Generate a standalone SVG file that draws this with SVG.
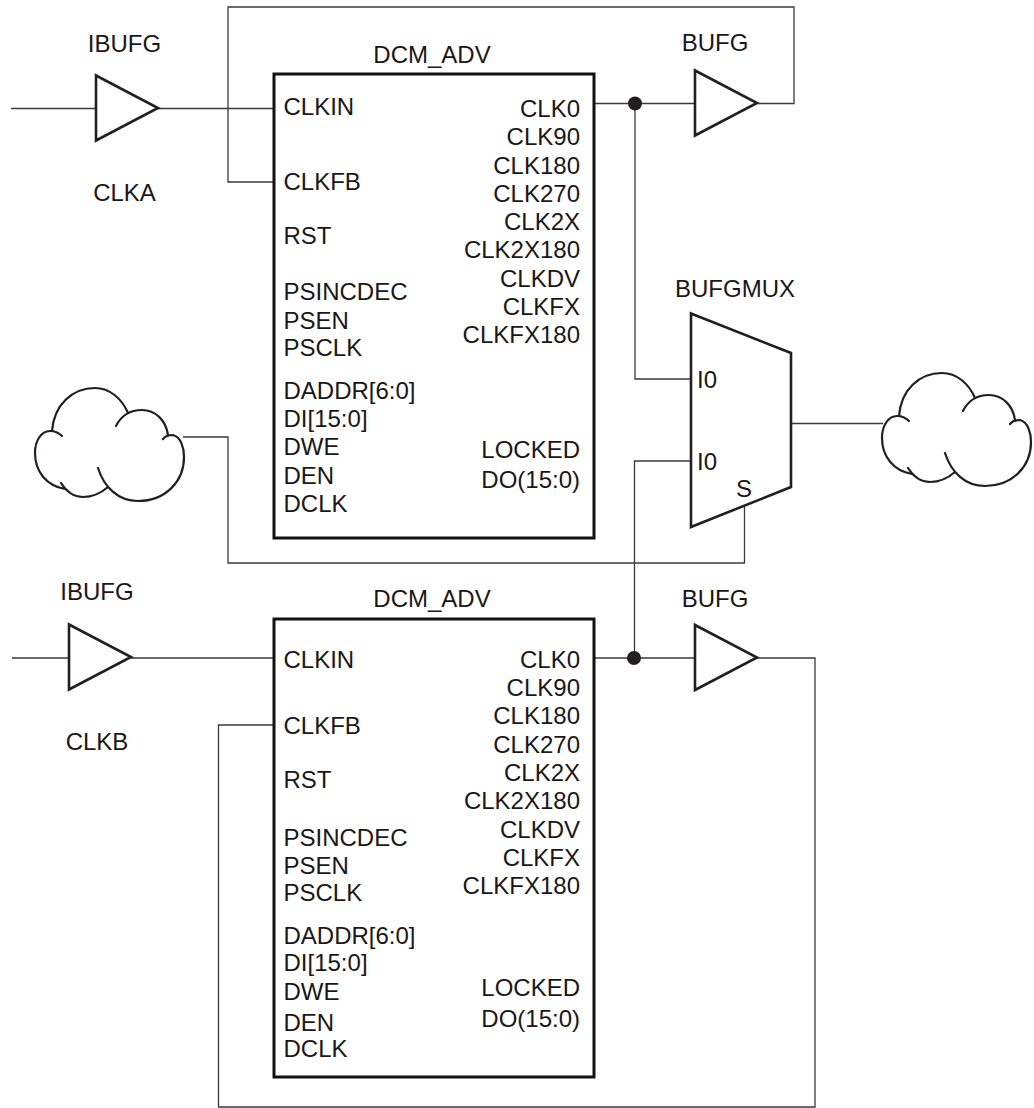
<svg xmlns="http://www.w3.org/2000/svg" width="1034" height="1108" viewBox="0 0 1034 1108">
<style>
text{font-family:"Liberation Sans",Arial,sans-serif;font-size:24px;fill:#1a1718}
.e{text-anchor:end}
.m{text-anchor:middle}
.w{fill:none;stroke:#3c3a3b;stroke-width:1.3}
.s{fill:#fff;stroke:#231f20;stroke-width:2.6}
.b{fill:#fff;stroke:#111;stroke-width:3}
.c{fill:none;stroke:#231f20;stroke-width:2.2;stroke-linecap:round}
</style>
<defs>
<path id="tri" class="s" d="M0 0L62 32.5L0 65Z"/>
<g id="cloud">
<path class="c" d="M52 431C54 405 72 388 95 388C110 388 122 399 128 413"/>
<path class="c" d="M116 426C122 414 132 410 142 410C155 410 166 420 168 435"/>
<path class="c" d="M163 439C166 435 170 435 173 435C181 437 184 448 184 457C184 482 165 501 138 501C118 501 104 487 98 468"/>
<path class="c" d="M108 487C100 494 92 497 83 497C74 497 66 491 61 483"/>
<path class="c" d="M65 489C47 486 35 472 35 453C35 441 41 431 50 431C55 431 59 433 62 436"/>
</g>
</defs>
<g id="connectors">
<path class="w" d="M11 108.500H96M157 108.500H274"/>
<path class="w" d="M274 182H228V7H794V103.500H757"/>
<path class="w" d="M594 103.500H695"/>
<path class="w" d="M635 103.500V379H691"/>
<path class="w" d="M691 461H634.500V658"/>
<path class="w" d="M791 423.500H883"/>
<path class="w" d="M183 437H228V563H744.500V506"/>
<path class="w" d="M12 658H69M131 658H274"/>
<path class="w" d="M594 658H695M757 658H815V1107H218.500V725H274"/>
<circle cx="635" cy="103.500" r="7" fill="#231f20"/>
<circle cx="634" cy="658" r="7" fill="#231f20"/>
</g>
<g id="ibufg-a"><use href="#tri" x="96" y="75.500"/><text class="m" x="124.500" y="52">IBUFG</text><text class="m" x="124.500" y="201">CLKA</text></g>
<g id="bufg-a"><use href="#tri" x="695" y="70.500"/><text class="m" x="715" y="51">BUFG</text></g>
<g id="dcm-a"><rect class="b" x="274" y="74" width="320" height="464"/><text class="m" x="432" y="63">DCM_ADV</text>
<text x="283.500" y="115">CLKIN</text>
<text x="283.500" y="190">CLKFB</text>
<text x="283.500" y="244">RST</text>
<text x="283.500" y="300">PSINCDEC</text>
<text x="283.500" y="329">PSEN</text>
<text x="283.500" y="356">PSCLK</text>
<text x="283.500" y="399">DADDR[6:0]</text>
<text x="283.500" y="427">DI[15:0]</text>
<text x="283.500" y="455">DWE</text>
<text x="283.500" y="484">DEN</text>
<text x="283.500" y="512">DCLK</text>
<text class="e" x="580" y="117">CLK0</text>
<text class="e" x="580" y="145">CLK90</text>
<text class="e" x="580" y="174">CLK180</text>
<text class="e" x="580" y="202">CLK270</text>
<text class="e" x="580" y="230">CLK2X</text>
<text class="e" x="580" y="258">CLK2X180</text>
<text class="e" x="580" y="287">CLKDV</text>
<text class="e" x="580" y="315">CLKFX</text>
<text class="e" x="580" y="343">CLKFX180</text>
<text class="e" x="580" y="458">LOCKED</text>
<text class="e" x="580" y="488">DO(15:0)</text>
</g>
<g id="bufgmux"><path class="s" d="M691 313.500L791 353V487L691 527Z"/><text class="m" x="735" y="297">BUFGMUX</text><text x="697" y="388">I0</text><text x="697" y="470">I0</text><text x="736" y="497">S</text></g>
<g id="cloud-a"><use href="#cloud"/></g>
<g id="cloud-b"><use href="#cloud" x="847" y="-15"/></g>
<g id="ibufg-b"><use href="#tri" x="69" y="624.500"/><text class="m" x="97" y="600">IBUFG</text><text class="m" x="97" y="750">CLKB</text></g>
<g id="bufg-b"><use href="#tri" x="695" y="625"/><text class="m" x="715" y="607">BUFG</text></g>
<g id="dcm-b"><rect class="b" x="274" y="619" width="320" height="458"/><text class="m" x="432" y="607">DCM_ADV</text>
<text x="283.500" y="668">CLKIN</text>
<text x="283.500" y="734">CLKFB</text>
<text x="283.500" y="788">RST</text>
<text x="283.500" y="846">PSINCDEC</text>
<text x="283.500" y="874">PSEN</text>
<text x="283.500" y="901">PSCLK</text>
<text x="283.500" y="944">DADDR[6:0]</text>
<text x="283.500" y="971">DI[15:0]</text>
<text x="283.500" y="1000">DWE</text>
<text x="283.500" y="1031">DEN</text>
<text x="283.500" y="1057">DCLK</text>
<text class="e" x="580" y="668">CLK0</text>
<text class="e" x="580" y="696">CLK90</text>
<text class="e" x="580" y="724">CLK180</text>
<text class="e" x="580" y="753">CLK270</text>
<text class="e" x="580" y="781">CLK2X</text>
<text class="e" x="580" y="809">CLK2X180</text>
<text class="e" x="580" y="838">CLKDV</text>
<text class="e" x="580" y="866">CLKFX</text>
<text class="e" x="580" y="894">CLKFX180</text>
<text class="e" x="580" y="996">LOCKED</text>
<text class="e" x="580" y="1027">DO(15:0)</text>
</g>
</svg>
